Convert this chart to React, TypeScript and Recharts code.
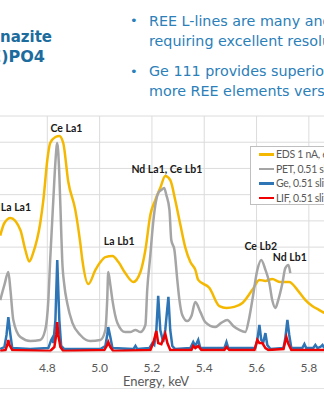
import React from "react";
import { LineChart, Line, XAxis, YAxis, CartesianGrid, ReferenceDot, Label } from "recharts";

// EDS, 1 nA (broad yellow trace)
const edsEnergy = [4.62, 4.636, 4.659, 4.697, 4.716, 4.731, 4.746, 4.773, 4.785, 4.8, 4.811, 4.831, 4.846, 4.861, 4.88, 4.907, 4.926, 4.934, 4.957, 4.984, 5.003, 5.022, 5.049, 5.072, 5.098, 5.129, 5.156, 5.175, 5.194, 5.213, 5.232, 5.251, 5.27, 5.289, 5.309, 5.328, 5.347, 5.366, 5.377, 5.42, 5.458, 5.485, 5.515, 5.546, 5.584, 5.611, 5.634, 5.66, 5.691, 5.725, 5.756, 5.787, 5.813, 5.84, 5.859];
const edsCounts = [4440, 4920, 5110, 4650, 3890, 3450, 3780, 4920, 5800, 7320, 7970, 8200, 8240, 7970, 6500, 5420, 4160, 3510, 2590, 3130, 3430, 3620, 3660, 3430, 3010, 2670, 3050, 3890, 5230, 5800, 6260, 6710, 6560, 5800, 4840, 3970, 3430, 3130, 2750, 2440, 1750, 1680, 1720, 1870, 2370, 2750, 2710, 2780, 2670, 2670, 2370, 1980, 1750, 1600, 1490];

// PET, 0.51 slit (grey)
const petEnergy = [4.62, 4.636, 4.651, 4.659, 4.67, 4.697, 4.735, 4.773, 4.792, 4.804, 4.811, 4.823, 4.831, 4.838, 4.846, 4.853, 4.857, 4.865, 4.876, 4.896, 4.926, 4.964, 5.003, 5.022, 5.029, 5.033, 5.041, 5.049, 5.068, 5.098, 5.117, 5.137, 5.156, 5.175, 5.182, 5.194, 5.202, 5.213, 5.224, 5.236, 5.247, 5.255, 5.267, 5.274, 5.286, 5.297, 5.305, 5.316, 5.335, 5.351, 5.366, 5.385, 5.404, 5.442, 5.465, 5.488, 5.511, 5.534, 5.557, 5.572, 5.584, 5.603, 5.618, 5.634, 5.649, 5.66, 5.672, 5.683, 5.699, 5.71, 5.722, 5.729];
const petCounts = [1980, 2560, 3050, 2370, 1220, 570, 420, 460, 840, 1980, 3510, 5800, 7250, 7970, 6750, 4650, 3510, 2555, 1870, 1110, 650, 420, 460, 840, 1980, 3050, 2560, 1980, 1110, 760, 760, 840, 760, 1030, 2365, 3700, 4650, 5600, 6060, 6180, 6255, 5990, 5420, 4270, 3890, 2750, 2000, 1410, 1180, 1370, 1910, 1530, 1140, 950, 1110, 1220, 990, 840, 760, 1300, 1980, 3130, 3510, 3130, 2630, 1980, 1680, 1980, 2630, 3200, 3320, 3010];

// Ge, 0.51 slit (blue)
const geEnergy = [4.62, 4.636, 4.644, 4.651, 4.659, 4.666, 4.735, 4.804, 4.815, 4.819, 4.823, 4.831, 4.838, 4.846, 4.853, 4.865, 5.003, 5.022, 5.029, 5.033, 5.041, 5.049, 5.129, 5.137, 5.144, 5.19, 5.202, 5.209, 5.217, 5.224, 5.232, 5.243, 5.251, 5.263, 5.27, 5.278, 5.289, 5.347, 5.358, 5.366, 5.377, 5.385, 5.477, 5.485, 5.492, 5.595, 5.603, 5.611, 5.618, 5.626, 5.634, 5.641, 5.653, 5.703, 5.71, 5.718, 5.725, 5.733, 5.775, 5.783, 5.79, 5.817, 5.825, 5.833, 5.844, 5.852, 5.859];
const geCounts = [110, 190, 650, 1330, 650, 150, 110, 150, 460, 530, 340, 1220, 3510, 1220, 230, 110, 110, 230, 650, 950, 570, 150, 110, 230, 110, 150, 340, 270, 840, 2140, 840, 380, 840, 2100, 840, 230, 110, 150, 380, 230, 460, 150, 150, 380, 150, 150, 460, 1030, 460, 380, 720, 270, 110, 150, 530, 1220, 650, 150, 150, 300, 150, 150, 270, 150, 190, 270, 150];

// LIF, 0.51 slit (red)
const lifEnergy = [4.62, 4.64, 4.647, 4.651, 4.655, 4.666, 4.811, 4.827, 4.834, 4.838, 4.842, 4.85, 4.861, 5.018, 5.029, 5.033, 5.041, 5.052, 5.194, 5.205, 5.217, 5.224, 5.236, 5.251, 5.259, 5.27, 5.351, 5.358, 5.366, 5.377, 5.389, 5.477, 5.485, 5.496, 5.592, 5.603, 5.611, 5.622, 5.634, 5.645, 5.703, 5.714, 5.722, 5.733, 5.859];
const lifCounts = [40, 75, 270, 460, 270, 75, 40, 190, 650, 1140, 650, 190, 40, 75, 270, 380, 190, 40, 75, 340, 800, 340, 300, 690, 340, 75, 75, 230, 150, 230, 75, 75, 190, 75, 75, 460, 340, 340, 150, 75, 110, 570, 300, 75, 75];

const energyTicks = [4.6, 4.8, 5.0, 5.2, 5.4, 5.6, 5.8];
const countTicks = [0, 1000, 2000, 3000, 4000, 5000, 6000, 7000, 8000, 9000];

const peakNames = ["La La1", "Ce La1", "La Lb1", "Nd La1, Ce Lb1", "Ce Lb2", "Nd Lb1"];
const peakEnergy = [4.68, 4.873, 5.075, 5.257, 5.616, 5.727];
const peakLabelY = [5530, 8543, 4233, 6980, 4043, 3623];

const toPoints = (energy: number[], counts: number[]) =>
  energy.map((e, i) => ({ e, c: counts[i] }));

const series = [
  { name: "EDS 1 nA, 60 sec", color: "#F5B800", data: toPoints(edsEnergy, edsCounts), type: "monotone" },
  { name: "PET, 0.51 slit", color: "#A5A5A5", data: toPoints(petEnergy, petCounts), type: "monotone" },
  { name: "Ge, 0.51 slit", color: "#2E75B6", data: toPoints(geEnergy, geCounts), type: "linear" },
  { name: "LIF, 0.51 slit", color: "#F00000", data: toPoints(lifEnergy, lifCounts), type: "linear" },
];

const chartFont = "Lato, 'Liberation Sans', sans-serif";
const slideFont = "'DejaVu Sans', sans-serif";

export default function App() {
  return (
    <div
      style={{
        position: "fixed",
        left: 0,
        top: 0,
        width: 324,
        height: 400,
        overflow: "hidden",
        background: "#fff",
        fontFamily: slideFont,
      }}
    >
      {/* slide title, cut off at the left edge */}
      <div style={{ position: "absolute", right: 272, top: 27, fontSize: 15, fontWeight: 700, lineHeight: "20px", color: "#1d6c9e", whiteSpace: "nowrap" }}>
        Monazite
      </div>
      <div style={{ position: "absolute", right: 279, top: 47, fontSize: 16, fontWeight: 700, lineHeight: "20px", color: "#1d6c9e", whiteSpace: "nowrap" }}>
        (REE)PO4
      </div>

      {/* bullets */}
      <div style={{ position: "absolute", left: 130, top: 11, fontSize: 13, lineHeight: "20px", color: "#2b80b9" }}>•</div>
      <div style={{ position: "absolute", left: 149, top: 11, fontSize: 14.3, lineHeight: "20px", color: "#2b80b9", whiteSpace: "nowrap" }}>
        REE L-lines are many and overlapping,
        <br />
        requiring excellent resolution
      </div>
      <div style={{ position: "absolute", left: 130, top: 62, fontSize: 13, lineHeight: "20px", color: "#2b80b9" }}>•</div>
      <div style={{ position: "absolute", left: 149, top: 62, fontSize: 14.3, lineHeight: "19.5px", color: "#2b80b9", whiteSpace: "nowrap" }}>
        Ge 111 provides superior resolution,
        <br />
        more REE elements versus LIF
      </div>

      <div style={{ position: "absolute", left: -5.3, top: 0 }}>
        <LineChart width={340} height={400} margin={{ top: 116, right: 0, bottom: 12, left: 0 }}>
          <CartesianGrid stroke="#dcdcdc" strokeWidth={1} />
          <XAxis
            type="number"
            dataKey="e"
            domain={[4.6, 5.9]}
            ticks={energyTicks}
            tickFormatter={(v: number) => v.toFixed(1)}
            height={36}
            tickLine={false}
            axisLine={{ stroke: "#d9d9d9" }}
            tickMargin={5}
            tick={{ fill: "#595959", fontSize: 12, fontFamily: chartFont }}
          >
            <Label value="Energy, keV" position="insideBottom" offset={2} dx={-9} fill="#595959" fontSize={13} fontFamily={chartFont} />
          </XAxis>
          <YAxis hide type="number" domain={[0, 9000]} ticks={countTicks} />
          {series.map((s) => (
            <Line
              key={s.name}
              data={s.data}
              dataKey="c"
              name={s.name}
              type={s.type as any}
              stroke={s.color}
              strokeWidth={2.5}
              dot={false}
              isAnimationActive={false}
            />
          ))}
          {peakNames.map((n, i) => (
            <ReferenceDot
              key={n}
              x={peakEnergy[i]}
              y={peakLabelY[i]}
              r={0}
              fill="none"
              stroke="none"
              label={{ value: n, position: "center", fill: "#1a1a1a", fontSize: 10.5, fontWeight: 700, fontFamily: chartFont }}
            />
          ))}
        </LineChart>
      </div>

      {/* legend */}
      <div
        style={{
          position: "absolute",
          left: 250,
          top: 146,
          width: 130,
          height: 59,
          border: "1px solid #bfbfbf",
          background: "#fff",
          boxSizing: "border-box",
          fontFamily: chartFont,
          fontSize: 10.5,
          letterSpacing: -0.3,
          color: "#595959",
        }}
      >
        {series.map((s) => (
          <div key={s.name} style={{ display: "flex", alignItems: "center", height: 14.5, whiteSpace: "nowrap" }}>
            <span style={{ display: "inline-block", width: 15, height: 2.5, background: s.color, marginLeft: 8, marginRight: 2 }} />
            {s.name}
          </div>
        ))}
      </div>

      <div style={{ position: "absolute", left: 0, top: 388, width: 324, height: 1, background: "#e3e3e3" }} />
    </div>
  );
}
